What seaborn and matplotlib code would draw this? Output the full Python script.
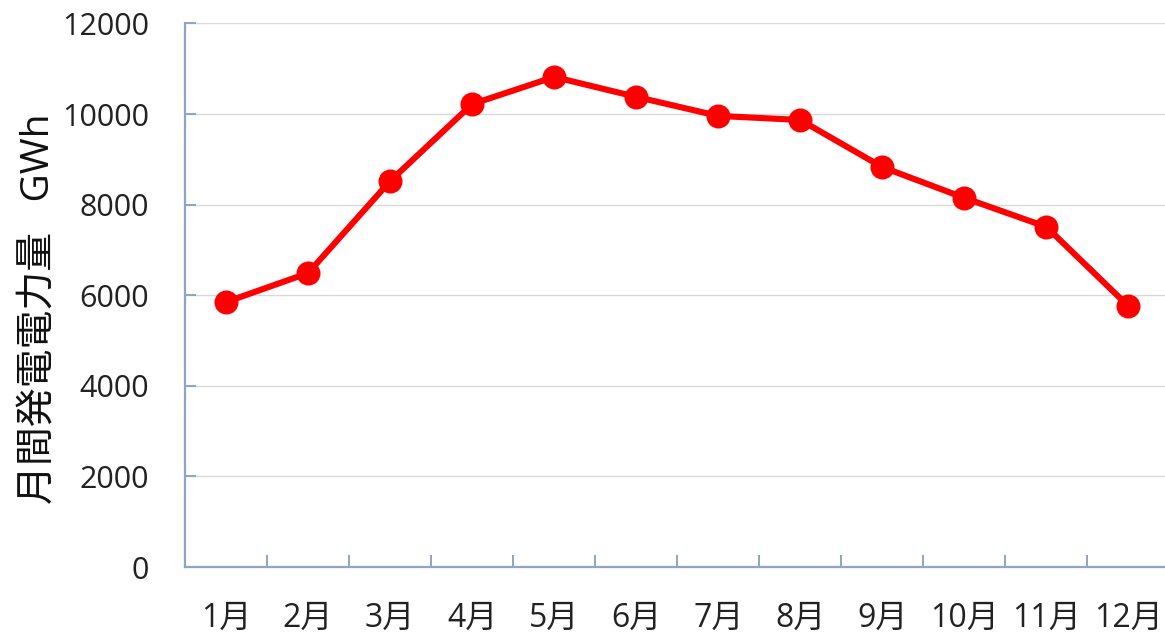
import matplotlib
matplotlib.use("Agg")
import matplotlib.pyplot as plt
from matplotlib.ticker import FixedLocator
import seaborn as sns
import pandas as pd

months = ["1月", "2月", "3月", "4月", "5月", "6月", "7月", "8月", "9月", "10月", "11月", "12月"]
generation_gwh = [5850, 6490, 8520, 10220, 10820, 10380, 9960, 9870, 8830, 8150, 7510, 5760]
y_ticks = [0, 2000, 4000, 6000, 8000, 10000, 12000]

sns.set_theme(style="white")
plt.rcParams["font.family"] = ["Open Sans", "Noto Sans CJK JP", "DejaVu Sans"]

df = pd.DataFrame({"month": months, "gwh": generation_gwh})

fig = plt.figure(figsize=(11.65, 6.35), dpi=100)
ax = fig.add_axes([0.1588, 0.107, 0.845, 0.856])

sns.pointplot(data=df, x="month", y="gwh", color="#FF0000", markers="o",
              markersize=14, linewidth=4.4, ax=ax, zorder=3)

axis_color = "#8EA4C2"
ax.set_ylim(0, 12000)
ax.set_xlim(-0.5, 11.5)
ax.set_yticks(y_ticks)
ax.set_yticklabels([str(v) for v in y_ticks])
ax.yaxis.grid(True, color="#D9D9D9", linewidth=1.0)
ax.xaxis.grid(False)
ax.set_axisbelow(True)

for side in ("top", "right"):
    ax.spines[side].set_visible(False)
for side in ("left", "bottom"):
    ax.spines[side].set_color(axis_color)
    ax.spines[side].set_linewidth(1.6)

ax.xaxis.set_minor_locator(FixedLocator([i + 0.5 for i in range(len(months) - 1)]))
ax.tick_params(axis="x", which="major", length=0, pad=25, labelsize=23, labelcolor="#222222")
ax.tick_params(axis="x", which="minor", direction="in", length=9, width=1.4, color=axis_color, bottom=True)
ax.tick_params(axis="y", which="major", direction="in", length=8, width=1.4, color=axis_color,
               left=True, pad=26, labelsize=22, labelcolor="#222222")

ax.set_xlabel("")
ax.set_ylabel("月間発電電力量   GWh", fontsize=28, color="#111111")
ax.yaxis.set_label_coords(-0.128, 0.475)

fig.savefig("out.png", dpi=100)
